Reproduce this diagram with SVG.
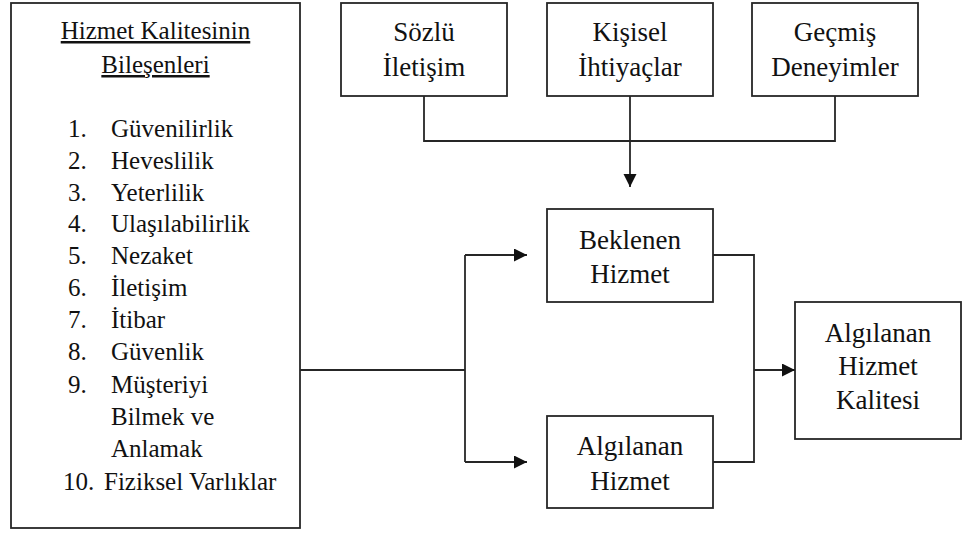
<svg xmlns="http://www.w3.org/2000/svg" width="969" height="536" viewBox="0 0 969 536">
  <style>
    .box { fill: #ffffff; stroke: #262626; stroke-width: 1.8; }
    .line { fill: none; stroke: #262626; stroke-width: 1.8; }
    .t { font-family: "Liberation Serif", "Times New Roman", serif; fill: #111111; }
    .list { font-size: 25px; }
    .title { font-size: 25px; text-anchor: middle; text-decoration: underline; }
    .label { font-size: 27px; text-anchor: middle; }
  </style>
  <defs>
    <marker id="arrow" markerUnits="userSpaceOnUse" markerWidth="14" markerHeight="14" refX="13" refY="6.5" orient="auto">
      <path d="M0,0 L13,6.5 L0,13 z" fill="#111111"/>
    </marker>
  </defs>

  <rect width="969" height="536" fill="#ffffff"/>

  <!-- Service quality components -->
  <g id="bilesenler">
    <rect class="box" x="11" y="3" width="289" height="525"/>
    <text class="t title" x="155.5" y="39">Hizmet Kalitesinin</text>
    <text class="t title" x="155.5" y="73">Bileşenleri</text>
    <g class="t list">
      <text x="68" y="137">1.</text><text x="111" y="137">Güvenilirlik</text>
      <text x="68" y="169">2.</text><text x="111" y="169">Heveslilik</text>
      <text x="68" y="201">3.</text><text x="111" y="201">Yeterlilik</text>
      <text x="68" y="232">4.</text><text x="111" y="232">Ulaşılabilirlik</text>
      <text x="68" y="264">5.</text><text x="111" y="264">Nezaket</text>
      <text x="68" y="296">6.</text><text x="111" y="296">İletişim</text>
      <text x="68" y="328">7.</text><text x="111" y="328">İtibar</text>
      <text x="68" y="360">8.</text><text x="111" y="360">Güvenlik</text>
      <text x="68" y="393">9.</text><text x="111" y="393">Müşteriyi</text>
      <text x="111" y="425">Bilmek ve</text>
      <text x="111" y="457">Anlamak</text>
      <text x="63" y="490">10.</text><text x="104" y="490">Fiziksel Varlıklar</text>
    </g>
  </g>

  <!-- Expectation sources -->
  <g id="sozlu-iletisim">
    <rect class="box" x="341" y="3" width="166" height="93"/>
    <text class="t label" x="424" y="41">Sözlü</text>
    <text class="t label" x="424" y="76">İletişim</text>
  </g>
  <g id="kisisel-ihtiyaclar">
    <rect class="box" x="547" y="3" width="166" height="93"/>
    <text class="t label" x="630" y="41">Kişisel</text>
    <text class="t label" x="630" y="76">İhtiyaçlar</text>
  </g>
  <g id="gecmis-deneyimler">
    <rect class="box" x="752" y="3" width="166" height="93"/>
    <text class="t label" x="835" y="41">Geçmiş</text>
    <text class="t label" x="835" y="76">Deneyimler</text>
  </g>

  <!-- Expected and perceived service -->
  <g id="beklenen-hizmet">
    <rect class="box" x="547" y="209" width="166" height="93"/>
    <text class="t label" x="630" y="249">Beklenen</text>
    <text class="t label" x="630" y="283">Hizmet</text>
  </g>
  <g id="algilanan-hizmet">
    <rect class="box" x="547" y="416" width="166" height="92"/>
    <text class="t label" x="630" y="455">Algılanan</text>
    <text class="t label" x="630" y="490">Hizmet</text>
  </g>
  <g id="algilanan-hizmet-kalitesi">
    <rect class="box" x="795" y="302" width="166" height="137"/>
    <text class="t label" x="878" y="342">Algılanan</text>
    <text class="t label" x="878" y="375">Hizmet</text>
    <text class="t label" x="878" y="409">Kalitesi</text>
  </g>

  <!-- Connectors -->
  <g id="connectors">
    <path class="line" d="M424,96 V141 H835 V96"/>
    <path class="line" d="M630,96 V187" marker-end="url(#arrow)"/>
    <path class="line" d="M300,370 H465"/>
    <path class="line" d="M465,255 V462"/>
    <path class="line" d="M465,255 H527" marker-end="url(#arrow)"/>
    <path class="line" d="M465,462 H527" marker-end="url(#arrow)"/>
    <path class="line" d="M713,255 H754 V462 H713"/>
    <path class="line" d="M754,370 H795" marker-end="url(#arrow)"/>
  </g>
</svg>
